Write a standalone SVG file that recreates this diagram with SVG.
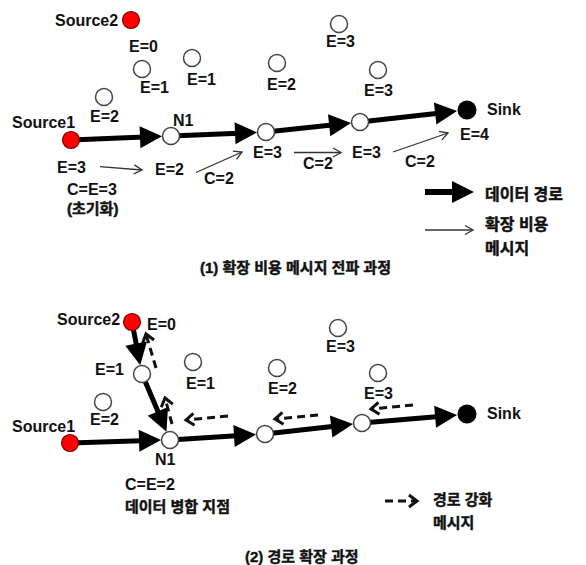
<svg xmlns="http://www.w3.org/2000/svg" width="586" height="565" viewBox="0 0 586 565">
  <style>
    text { font-family: "Liberation Sans", "Noto Sans CJK KR", Arial, sans-serif; font-weight: bold; font-size: 16px; fill: #111; }
    .k { font-size: 15px; stroke: #111; stroke-width: 0.45; }
    .k16 { font-size: 16px; stroke: #111; stroke-width: 0.45; }
    .title1 { font-size: 15px; stroke: #111; stroke-width: 0.45; }
    .title2 { font-size: 15px; stroke: #111; stroke-width: 0.4; }
    .n { fill: #fff; stroke: #444; stroke-width: 1.5; }
    .src { fill: #f00; stroke: #7a0000; stroke-width: 1.2; }
    .sink { fill: #000; }
    .data { fill: none; stroke: #000; stroke-width: 5; marker-end: url(#headData); }
    .cost { fill: none; stroke: #333; stroke-width: 1.3; marker-end: url(#headCost); }
    .reinf { fill: none; stroke: #111; stroke-width: 3; stroke-dasharray: 8 5; marker-end: url(#headReinf); }
  </style>
  <defs>
    <marker id="headData" markerUnits="userSpaceOnUse" markerWidth="22" markerHeight="22" refX="10" refY="11" orient="auto" overflow="visible">
      <path d="M0,0 L22,11 L0,22 Z" fill="#000"/>
    </marker>
    <marker id="headCost" markerUnits="userSpaceOnUse" markerWidth="10" markerHeight="10" refX="0" refY="0" orient="auto" overflow="visible">
      <path d="M-8,-4.5 L0,0 L-8,4.5" fill="none" stroke="#333" stroke-width="1.3"/>
    </marker>
    <marker id="headReinf" markerUnits="userSpaceOnUse" markerWidth="12" markerHeight="14" refX="0" refY="0" orient="auto" overflow="visible">
      <path d="M-8,-6 L0,0 L-8,6" fill="none" stroke="#111" stroke-width="3" stroke-dasharray="none"/>
    </marker>
  </defs>
  <rect width="586" height="565" fill="#fff"/>

  <!-- (1) expansion cost propagation -->
  <g id="connectors-1">
    <path class="data" d="M71,140 L150,136.8"/>
    <path class="data" d="M171,136 L245,132.9"/>
    <path class="data" d="M266,132 L339.1,124.2"/>
    <path class="data" d="M360,122 L445.1,112.4"/>
    <path class="cost" d="M100,166.7 L142,170"/>
    <path class="cost" d="M196,172.5 L242,152"/>
    <path class="cost" d="M294,152.5 L341,152.5"/>
    <path class="cost" d="M393,152 L448,133"/>
  </g>

  <g id="source2-a"><circle class="src" cx="131" cy="20" r="8.5"/><text x="55" y="26">Source2</text><text x="129" y="52">E=0</text></g>
  <g id="node-a1"><circle class="n" cx="142" cy="69" r="8.5"/><text x="140" y="93">E=1</text></g>
  <g id="node-a2"><circle class="n" cx="192" cy="58" r="8.5"/><text x="187" y="85">E=1</text></g>
  <g id="node-a3"><circle class="n" cx="277" cy="63" r="8.5"/><text x="267" y="90">E=2</text></g>
  <g id="node-a4"><circle class="n" cx="104" cy="97" r="8.5"/><text x="90" y="122">E=2</text></g>
  <g id="node-a5"><circle class="n" cx="339" cy="24" r="8.5"/><text x="326" y="47">E=3</text></g>
  <g id="node-a6"><circle class="n" cx="378" cy="70" r="8.5"/><text x="364" y="96">E=3</text></g>
  <g id="source1-a"><circle class="src" cx="71" cy="140" r="8.5"/><text x="12" y="128">Source1</text>
    <text x="57" y="173">E=3</text><text x="67" y="195">C=E=3</text><text class="k" x="67" y="214">(초기화)</text></g>
  <g id="n1-a"><circle class="n" cx="171" cy="136" r="8.5"/><text x="173" y="126">N1</text><text x="155" y="175">E=2</text></g>
  <g id="node-a7"><circle class="n" cx="266" cy="132" r="8.5"/><text x="253" y="158">E=3</text></g>
  <g id="node-a8"><circle class="n" cx="360" cy="122" r="8.5"/><text x="352" y="158">E=3</text></g>
  <g id="sink-a"><circle class="sink" cx="467" cy="110" r="9.5"/><text x="487" y="115">Sink</text><text x="460" y="140">E=4</text></g>
  <g id="cost-labels-a"><text x="204" y="184">C=2</text><text x="303" y="169">C=2</text><text x="405" y="167">C=2</text></g>

  <g id="legend-a">
    <line x1="425" y1="192" x2="455" y2="192" stroke="#000" stroke-width="6"/>
    <path d="M452,181 L474,192 L452,203 Z" fill="#000"/>
    <text class="k16" x="485" y="200">데이터 경로</text>
    <path class="cost" d="M425,230 L473,230"/>
    <text class="k16" x="485" y="230">확장 비용</text>
    <text class="k16" x="485" y="254">메시지</text>
  </g>
  <text class="title1" x="200" y="273">(1) 확장 비용 메시지 전파 과정</text>

  <!-- (2) path expansion -->
  <g id="connectors-2">
    <path class="data" d="M70,443 L149,440.5"/>
    <path class="data" d="M170,440 L244,435.3"/>
    <path class="data" d="M265,434 L341.1,425.4"/>
    <path class="data" d="M362,423 L445.1,415.9"/>
    <path class="data" d="M132,322 L138,353.4"/>
    <path class="data" d="M142,374 L161.8,420.6"/>
    <path class="reinf" d="M228,416 L186,420"/>
    <path class="reinf" d="M318,415 L275,419"/>
    <path class="reinf" d="M413,405 L371,409"/>
    <path class="reinf" d="M172,424 L165,398"/>
    <path class="reinf" d="M156,368 L146,334"/>
  </g>

  <g id="source2-b"><circle class="src" cx="132" cy="322" r="8.5"/><text x="57" y="325">Source2</text><text x="147" y="330">E=0</text></g>
  <g id="node-b1"><circle class="n" cx="142" cy="374" r="8.5"/><text x="95" y="375">E=1</text></g>
  <g id="node-b2"><circle class="n" cx="193" cy="362" r="8.5"/><text x="186" y="389">E=1</text></g>
  <g id="node-b3"><circle class="n" cx="277" cy="368" r="8.5"/><text x="268" y="394">E=2</text></g>
  <g id="node-b4"><circle class="n" cx="103" cy="402" r="8.5"/><text x="90" y="425">E=2</text></g>
  <g id="node-b5"><circle class="n" cx="338" cy="328" r="8.5"/><text x="326" y="352">E=3</text></g>
  <g id="node-b6"><circle class="n" cx="378" cy="373" r="8.5"/><text x="364" y="399">E=3</text></g>
  <g id="source1-b"><circle class="src" cx="70" cy="443" r="8.5"/><text x="12" y="432">Source1</text></g>
  <g id="n1-b"><circle class="n" cx="170" cy="440" r="8.5"/><text x="155" y="465">N1</text>
    <text x="125" y="490">C=E=2</text><text class="k" x="125" y="512">데이터 병합 지점</text></g>
  <g id="node-b7"><circle class="n" cx="265" cy="434" r="8.5"/></g>
  <g id="node-b8"><circle class="n" cx="362" cy="423" r="8.5"/></g>
  <g id="sink-b"><circle class="sink" cx="467" cy="414" r="9.5"/><text x="487" y="419">Sink</text></g>

  <g id="legend-b">
    <path class="reinf" d="M385,501 L417,501"/>
    <text class="k" x="433" y="505">경로 강화</text>
    <text class="k" x="433" y="528">메시지</text>
  </g>
  <text class="title2" x="245" y="562">(2) 경로 확장 과정</text>
</svg>
